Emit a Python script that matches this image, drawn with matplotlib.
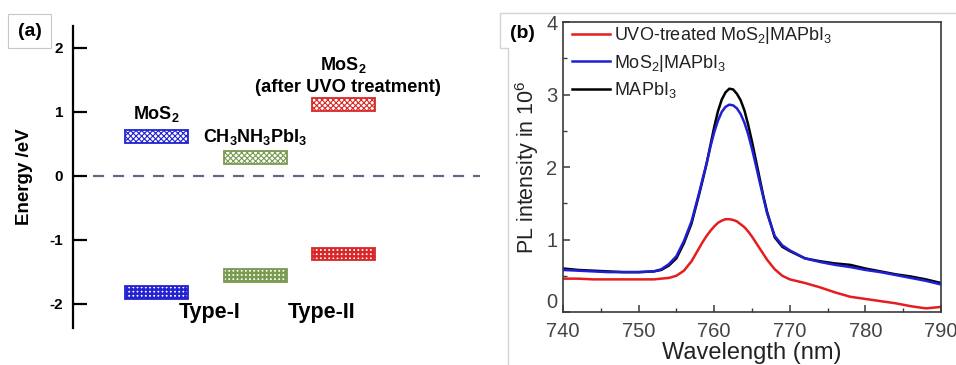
import numpy as np
import matplotlib
matplotlib.use('Agg')
import matplotlib.pyplot as plt
from matplotlib.patches import Rectangle
from matplotlib.lines import Line2D

plt.rcParams['font.family'] = ['Liberation Sans', 'DejaVu Sans']
plt.rcParams['mathtext.fontset'] = 'custom'
plt.rcParams['mathtext.rm'] = 'Liberation Sans'
plt.rcParams['mathtext.bf'] = 'Liberation Sans:bold'
plt.rcParams['hatch.linewidth'] = 0.8

# (a) band edges in eV
cb_energy = [0.62, 0.29, 1.12]
vb_energy = [-1.82, -1.55, -1.22]
band_colors = ['#2323d2', '#7b9a52', '#d82828']

# (b) PL spectra
wl = [740, 742, 744, 746, 748, 750, 752, 753, 754, 755, 756, 757,
      758, 758.5, 759, 759.5, 760, 760.5, 761, 761.5, 762, 762.5, 763, 763.5,
      764, 764.5, 765, 765.5, 766, 766.5, 767,
      768, 769, 770, 772, 774, 776, 778, 780, 782, 784, 786, 788, 790]
pl_uvo = [0.46, 0.46, 0.45, 0.45, 0.45, 0.45, 0.45, 0.46, 0.47, 0.50, 0.57, 0.70,
          0.88, 0.97, 1.05, 1.12, 1.18, 1.23, 1.26, 1.28, 1.28, 1.27, 1.25, 1.21,
          1.17, 1.11, 1.04, 0.96, 0.88, 0.80, 0.72,
          0.59, 0.50, 0.45, 0.40, 0.34, 0.27, 0.21, 0.18, 0.15, 0.12, 0.08, 0.05, 0.07]
pl_mos2 = [0.58, 0.57, 0.56, 0.55, 0.55, 0.55, 0.56, 0.59, 0.66, 0.77, 0.98, 1.25,
           1.64, 1.85, 2.05, 2.28, 2.48, 2.64, 2.76, 2.83, 2.86, 2.85, 2.81, 2.73,
           2.61, 2.45, 2.25, 2.03, 1.80, 1.58, 1.36,
           1.05, 0.92, 0.85, 0.74, 0.69, 0.65, 0.62, 0.58, 0.55, 0.51, 0.47, 0.43, 0.38]
pl_mapbi = [0.60, 0.58, 0.57, 0.56, 0.55, 0.55, 0.56, 0.58, 0.64, 0.74, 0.95, 1.22,
            1.62, 1.83, 2.05, 2.30, 2.55, 2.77, 2.93, 3.03, 3.08, 3.07, 3.01, 2.92,
            2.78, 2.58, 2.35, 2.10, 1.85, 1.60, 1.38,
            1.03, 0.90, 0.84, 0.74, 0.70, 0.67, 0.65, 0.60, 0.56, 0.52, 0.49, 0.45, 0.40]

W, H = 956, 365
fig = plt.figure(figsize=(W/100., H/100.), dpi=100)

# ---------------- panel (a)
ax = fig.add_axes([73/W, (H-328)/H, 407/W, 302/H])
ax.set_xlim(0, 407) ; ax.set_ylim(-2.375, 2.34)
for s in ['top', 'right', 'bottom']:
    ax.spines[s].set_visible(False)
ax.spines['left'].set_linewidth(1.6)
ax.set_yticks([-2, -1, 0, 1, 2])
ax.set_yticklabels(['-2', '-1', '0', '1', '2'], fontweight='bold', fontsize=11)
ax.tick_params(axis='y', direction='in', length=10, width=1.6, pad=7)
ax.set_xticks([])
ax.set_ylabel('Energy /eV', fontweight='bold', fontsize=13.5, labelpad=12)
ax.axhline(0, xmin=20/407, xmax=1, color='#5d6b87', lw=1.6, ls=(0, (5, 4)))

xc = [83, 182, 270.5]
bw, bh = 63, 0.2
for x, e, c in zip(xc, cb_energy, band_colors):
    ax.add_patch(Rectangle((x-bw/2, e-bh/2), bw, bh, facecolor='white',
                           edgecolor=c, hatch='xxxxxx', lw=1.3))
with plt.rc_context({'hatch.linewidth': 1.7}):
    for x, e, c in zip(xc, vb_energy, band_colors):
        ax.add_patch(Rectangle((x-bw/2, e-bh/2), bw, bh, facecolor='white',
                               edgecolor=c, hatch='++++', lw=1.3))

ax.text(83, 0.96, r'MoS$_\mathbf{2}$', ha='center', va='center',
        fontweight='bold', fontsize=13)
ax.text(182, 0.60, r'CH$_\mathbf{3}$NH$_\mathbf{3}$PbI$_\mathbf{3}$',
        ha='center', va='center', fontweight='bold', fontsize=13)
ax.text(270.5, 1.73, r'MoS$_\mathbf{2}$', ha='center', va='center',
        fontweight='bold', fontsize=13)
ax.text(275, 1.38, '(after UVO treatment)', ha='center', va='center',
        fontweight='bold', fontsize=13.2)
ax.text(137, -2.14, 'Type-I', ha='center', va='center', fontweight='bold',
        fontsize=15.5)
ax.text(249, -2.14, 'Type-II', ha='center', va='center', fontweight='bold',
        fontsize=15.5)

fig.patches.append(Rectangle((8/W, (H-48)/H), 43/W, 34/H, transform=fig.transFigure,
                             facecolor='white', edgecolor='#c8c8c8', lw=0.8))
fig.text(29.5/W, (H-31)/H, '(a)', ha='center', va='center', fontweight='bold',
         fontsize=14)

# ---------------- panel (b)
fig.lines.append(Line2D([508/W, 508/W, 500/W, 500/W, 1.0],
                        [0, (H-48)/H, (H-48)/H, (H-13)/H, (H-13)/H],
                        transform=fig.transFigure, color='#d4d4d4', lw=1.0))
fig.text(522/W, (H-33)/H, '(b)', ha='center', va='center', fontweight='bold',
         fontsize=14)

axb = fig.add_axes([563/W, (H-312)/H, 378/W, 290/H])
axb.plot(wl, pl_uvo, color='#e41e1e', lw=1.8, label=r'UVO-treated MoS$_2$|MAPbI$_3$')
axb.plot(wl, pl_mos2, color='#1f1fd6', lw=1.8, label=r'MoS$_2$|MAPbI$_3$', zorder=3)
axb.plot(wl, pl_mapbi, color='black', lw=1.8, label=r'MAPbI$_3$', zorder=2)
axb.set_xlim(740, 790) ; axb.set_ylim(0, 4)
axb.set_xticks([740, 750, 760, 770, 780, 790])
axb.set_xticks(np.arange(745, 790, 10), minor=True)
axb.set_yticks([0, 1, 2, 3, 4])
axb.set_yticks([0.5, 1.5, 2.5, 3.5], minor=True)
for s in axb.spines.values():
    s.set_color('#3a3a3a') ; s.set_linewidth(1.2)
axb.tick_params(which='both', direction='in', top=False, right=False,
                colors='#3a3a3a', labelsize=14.5, labelcolor='#444444')
axb.tick_params(which='major', length=5, width=1.1)
axb.tick_params(which='minor', length=3, width=1.0)
axb.tick_params(axis='x', pad=7)
axb.tick_params(axis='y', pad=4)
# lift the "0" a little so it clears the 740 label below it
axb.get_yticklabels()[0].set_va('bottom')
axb.set_xlabel('Wavelength (nm)', fontsize=17, color='#222222', labelpad=1)
axb.set_ylabel(r'PL intensity in 10$^6$', fontsize=15.5, color='#222222',
               labelpad=4)
leg = axb.legend(loc='upper left', fontsize=13, frameon=False, handlelength=2.1,
                 handletextpad=0.2, labelspacing=0.35, borderaxespad=0.1,
                 bbox_to_anchor=(0.0, 1.02))
for t in leg.get_texts():
    t.set_color('#222222')

fig.savefig('out.png', dpi=100)
